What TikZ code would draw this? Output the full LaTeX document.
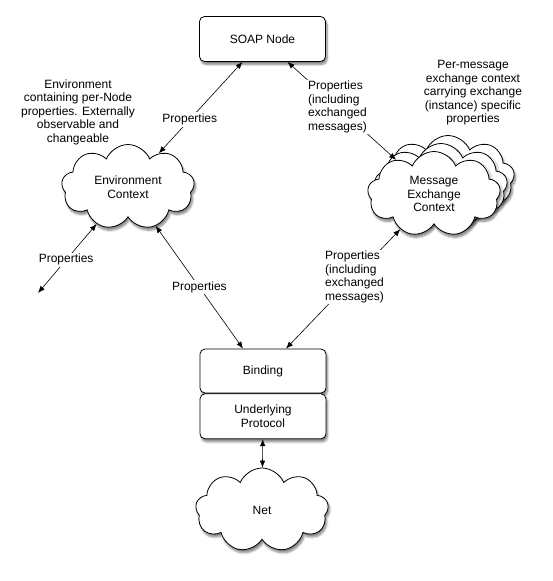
\documentclass[tikz,border=0pt]{standalone}
\usepackage{fontspec}
\setmainfont{Liberation Sans}
\usepackage{tikz}
\usetikzlibrary{calc}
\usetikzlibrary{arrows.meta,shapes,shadows,shadows.blur}
\usetikzlibrary{positioning}

\begin{document}
\begin{tikzpicture}
        [x=1pt,y=1pt,
          every node/.style={font=\fontsize{12}{13.5}\selectfont},
          >={Latex[length=7pt,width=5.5pt]},
          shade/.style={blur shadow={shadow xshift=1.5pt,shadow yshift=-3pt,shadow blur steps=6,shadow opacity=50}},
          box/.style={draw,fill=white,rounded corners=5pt,line width=0.8pt,minimum width=126pt,minimum height=45pt,align=center,shade},
          puff/.style={draw,fill=white,cloud,cloud puffs=9,cloud puff arc=135,cloud ignores aspect,line width=0.8pt,minimum width=133pt,minimum height=85pt,align=center,shade},
          note/.style={align=center},
          lbl/.style={fill=white,inner sep=1.5pt,align=left},
          link/.style={<->,line width=0.6pt}]
        \useasboundingbox (0,0) rectangle (552,-581);

        % boxes
        \node[box] (soap) at (262.5,-39) {SOAP Node};
        \node[box,minimum height=44pt] (binding) at (263,-371) {Binding};
        \node[box,below=0pt of binding] (protocol) {Underlying\\Protocol};

        % clouds
        \node[puff] (env) at (128,-187) {Environment\\Context};
        \node[puff] (msgC) at (448,-178) {};
        \node[puff] (msgB) at (441,-186) {};
        \node[puff] (msg) at (434,-194) {Message\\Exchange\\Context};
        \node[puff,minimum height=84pt] (net) at (262,-510) {Net};
        \coordinate (envout) at (38,-293);

        % notes
        \node[note] (envnote) at (78,-112) {Environment\\containing per-Node\\properties. Externally\\observable and\\changeable};
        \node[note] (msgnote) at (473,-93) {Per-message\\exchange context\\carrying exchange\\(instance) specific\\properties};

        % properties
        \draw[link] ([xshift=-20pt]soap.south) -- node[lbl,pos=0.63] {Properties} (env);
        \draw[link] ([xshift=25pt]soap.south) -- node[lbl,pos=0.46] {Properties\\(including\\exchanged\\messages)} (msg);
        \draw[link] (env) -- node[lbl,pos=0.52] {Properties} (envout);
        \draw[link] (env) -- node[lbl,pos=0.5] {Properties} ([xshift=-20pt]binding.north);
        \draw[link] (msg) -- node[lbl,pos=0.4] {Properties\\(including\\exchanged\\messages)} ([xshift=23pt]binding.north);
        \draw[link] (protocol) -- (net);

      \end{tikzpicture}
\end{document}
